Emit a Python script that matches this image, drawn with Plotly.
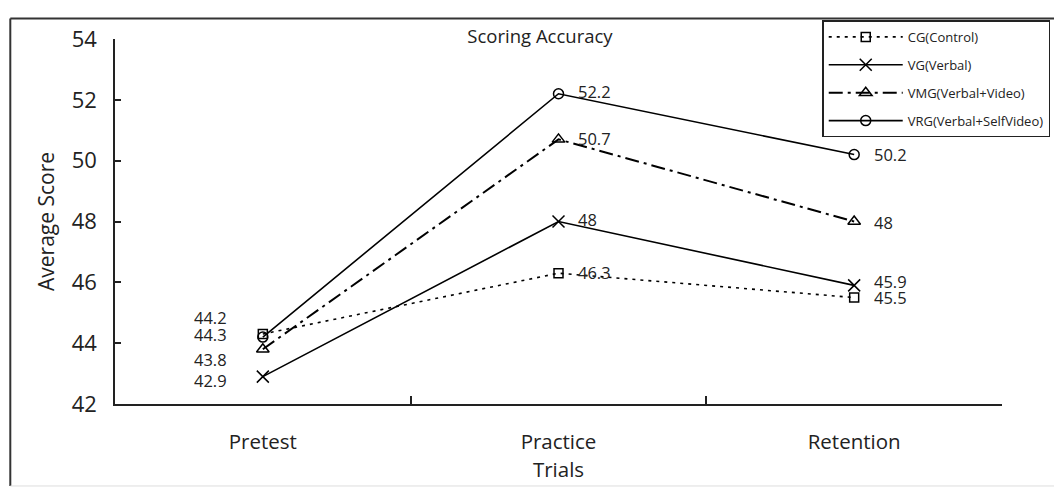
import plotly.graph_objects as go

categories = ["Pretest", "Practice", "Retention"]
cg = [44.3, 46.3, 45.5]
vg = [42.9, 48.0, 45.9]
vmg = [43.8, 50.7, 48.0]
vrg = [44.2, 52.2, 50.2]
series_names = ["CG(Control)", "VG(Verbal)", "VMG(Verbal+Video)", "VRG(Verbal+SelfVideo)"]
y_ticks = [42, 44, 46, 48, 50, 52, 54]

FONT = "Open Sans"
OFF = 8  # page body margin offset
W, H = 1062 - OFF, 490 - OFF
L, T = 115 - OFF, 30 - OFF
R = W - (1013 - OFF)
B = H - (404 - OFF)
PW, PH = W - L - R, H - T - B

def px(x):
    """real page pixel x -> paper coordinate"""
    return (x - OFF - L) / PW

def py(y):
    """real page pixel y -> paper coordinate"""
    return (H - B - (y - OFF)) / PH

styles = [
    dict(dash="3px,5px", width=1.6, symbol="square-open", size=9),
    dict(dash="solid", width=1.6, symbol="x-thin-open", size=12),
    dict(dash="14px,5px,3px,5px", width=2, symbol="triangle-up-open", size=11),
    dict(dash="solid", width=1.6, symbol="circle-open", size=10),
]
data = [cg, vg, vmg, vrg]

fig = go.Figure()
for i, (name, vals, st) in enumerate(zip(series_names, data, styles)):
    fig.add_trace(go.Scatter(
        x=categories, y=vals, name=name, mode="lines+markers",
        legendgroup=f"g{i}",
        line=dict(color="black", width=st["width"], dash=st["dash"]),
        marker=dict(symbol=st["symbol"], size=st["size"], color="black",
                    line=dict(color="black", width=1.5)),
    ))

# data labels: per-series per-point offsets (pixels)
label_offsets = {
    0: [(-34, 0, "right"), (17, 1, "left"), (18, 0, "left")],
    1: [(-34, -4, "right"), (17, 2, "left"), (18, 4, "left")],
    2: [(-34, -10, "right"), (17, 1, "left"), (18, -1, "left")],
    3: [(-34, 20, "right"), (17, 2, "left"), (18, 0, "left")],
}
for i, vals in enumerate(data):
    for j, v in enumerate(vals):
        dx, dy, anchor = label_offsets[i][j]
        fig.add_annotation(x=categories[j], y=v, text=f"{v:g}", showarrow=False,
                           xanchor=anchor, yanchor="middle", xshift=dx, yshift=dy,
                           font=dict(family=FONT, size=16.5, color="#222"))

# outer frame
fig.add_shape(type="line", xref="paper", yref="paper", x0=px(OFF + 1), x1=px(1075), y0=py(OFF + 1), y1=py(OFF + 1),
              line=dict(color="#333", width=2))
fig.add_shape(type="line", xref="paper", yref="paper", x0=px(OFF + 1), x1=px(OFF + 1), y0=py(OFF + 1), y1=py(488),
              line=dict(color="#333", width=2))
fig.add_shape(type="line", xref="paper", yref="paper", x0=px(OFF + 1), x1=px(1075), y0=py(488), y1=py(488),
              line=dict(color="#ddd", width=1))

fig.update_layout(
    width=W, height=H,
    margin=dict(l=L, r=R, t=T, b=B),
    paper_bgcolor="white", plot_bgcolor="white",
    font=dict(family=FONT, color="#222"),
    title=dict(text="Scoring Accuracy", x=(540 - OFF) / W, y=1 - (37 - OFF) / H,
               xref="container", yref="container", xanchor="center", yanchor="middle",
               font=dict(family=FONT, size=18.5, color="#222")),
    showlegend=True,
    legend=dict(x=px(831), y=py(11), xanchor="left", yanchor="top",
                bgcolor="white", bordercolor="#222", borderwidth=1.5,
                font=dict(family=FONT, size=13, color="#222"),
                itemwidth=74, tracegroupgap=8),
    xaxis=dict(
        type="category", range=[-0.5, 2.5], showline=True, linecolor="#222", linewidth=1.5,
        ticks="inside", ticklen=8, tickcolor="#222", tickwidth=1.5, tickson="boundaries",
        showgrid=False, zeroline=False, ticklabelstandoff=19,
        tickfont=dict(family=FONT, size=20.5, color="#222"),
        title=dict(text="Trials", font=dict(family=FONT, size=20.5, color="#222"), standoff=0),
    ),
    yaxis=dict(
        range=[42, 54], tickvals=y_ticks, showline=True, linecolor="#222", linewidth=1.5,
        ticks="inside", ticklen=6, tickcolor="#222", tickwidth=1.5,
        showgrid=False, zeroline=False, ticklabelstandoff=12,
        tickfont=dict(family=FONT, size=22, color="#222"),
        title=dict(text="Average Score", font=dict(family=FONT, size=21, color="#222"), standoff=11),
    ),
)

fig.write_html("out.html")
